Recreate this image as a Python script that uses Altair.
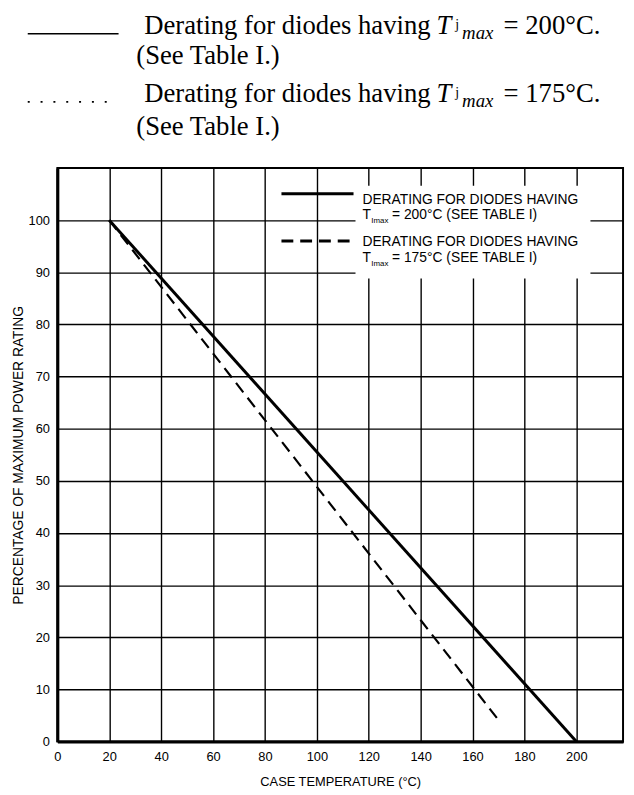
import altair as alt
import pandas as pd

# ---- data ----
temp_200 = [20, 200]
pct_200 = [100, 0]
temp_175 = [20, 171]
pct_175 = [100, 3.5]
x_ticks = [0, 20, 40, 60, 80, 100, 120, 140, 160, 180, 200]
y_ticks = [0, 10, 20, 30, 40, 50, 60, 70, 80, 90, 100]
x_title = "CASE TEMPERATURE (°C)"
y_title = "PERCENTAGE OF MAXIMUM POWER RATING"

df200 = pd.DataFrame({"temp": temp_200, "pct": pct_200})
df175 = pd.DataFrame({"temp": temp_175, "pct": pct_175})
one = pd.DataFrame({"a": [0]})

W, H = 573, 581
SANS = "Liberation Sans"
SERIF = "Liberation Serif"

x_scale = alt.Scale(domain=[0, 218], nice=False, zero=False)
y_scale = alt.Scale(domain=[0, 110], nice=False)

common = dict(ticks=False, grid=True, gridColor="black", gridWidth=1.4, gridOpacity=1,
              domainColor="black", domainWidth=3,
              labelFont=SANS, labelFontSize=13, labelColor="black",
              titleFont=SANS, titleFontWeight="normal", titleColor="black",
              labelFlush=False)
x_axis = alt.Axis(values=x_ticks, title=x_title, labelPadding=9,
                  titleFontSize=13, titlePadding=12, **common)
y_axis = alt.Axis(values=y_ticks, title=y_title, labelPadding=8,
                  titleFontSize=14, titlePadding=3, **common)

line200 = alt.Chart(df200).mark_line(color="black", strokeWidth=3).encode(
    x=alt.X("temp:Q", scale=x_scale, axis=x_axis),
    y=alt.Y("pct:Q", scale=y_scale, axis=y_axis),
)
line175 = alt.Chart(df175).mark_line(color="black", strokeWidth=2.2, strokeDash=[12, 7]).encode(
    x=alt.X("temp:Q", scale=x_scale),
    y=alt.Y("pct:Q", scale=y_scale),
)


def txt(s, x, y, size, font=SANS, style="normal"):
    return alt.Chart(one).mark_text(
        align="left", baseline="alphabetic", font=font, fontSize=size,
        fontStyle=style, color="black"
    ).encode(x=alt.value(x), y=alt.value(y), text=alt.value(s))


def rule(x1, x2, y, width, dash=None):
    kw = dict(color="black", strokeWidth=width, strokeCap="butt")
    if dash:
        kw["strokeDash"] = dash
    return alt.Chart(one).mark_rule(**kw).encode(
        x=alt.value(x1), x2=alt.value(x2), y=alt.value(y))


# white box behind the inner legend (covers grid lines)
box = alt.Chart(one).mark_rect(color="white").encode(
    x=alt.value(302), x2=alt.value(540), y=alt.value(18), y2=alt.value(112))

inner = [
    rule(227, 300, 26, 3),
    txt("DERATING FOR DIODES HAVING", 309, 36, 14),
    txt("T", 309, 52, 14),
    txt("Imax", 318, 56, 8),
    txt("= 200°C (SEE TABLE I)", 339, 52, 14),
    rule(227, 300, 74, 3, [12, 7]),
    txt("DERATING FOR DIODES HAVING", 309, 79, 14),
    txt("T", 309, 95, 14),
    txt("Imax", 318, 99, 8),
    txt("= 175°C (SEE TABLE I)", 339, 95, 14),
]

header = [
    rule(-30, 62, -136, 1.5),
    txt("Derating for diodes having", 88, -136, 27, SERIF),
    txt("T", 384, -136, 27, SERIF, "italic"),
    txt("j", 403, -141, 14, SERIF),
    txt("max", 410, -131, 19, SERIF, "italic"),
    txt("= 200°C.", 452, -136, 27, SERIF),
    txt("(See Table I.)", 80, -105, 27, SERIF),
    rule(-30, 60, -67, 2, [2, 11]),
    txt("Derating for diodes having", 88, -67, 27, SERIF),
    txt("T", 384, -67, 27, SERIF, "italic"),
    txt("j", 403, -72, 14, SERIF),
    txt("max", 410, -62, 19, SERIF, "italic"),
    txt("= 175°C.", 452, -67, 27, SERIF),
    txt("(See Table I.)", 80, -33, 27, SERIF),
]

chart = alt.layer(line200, box, line175, *inner, *header).properties(
    width=W, height=H,
    autosize=alt.AutoSizeParams(type="none"),
    padding={"left": 50, "top": 157, "right": 3, "bottom": 48},
    background="white",
).configure_view(stroke="black", strokeWidth=2)

chart.save("out.html", embed_options={"renderer": "svg", "actions": False})
